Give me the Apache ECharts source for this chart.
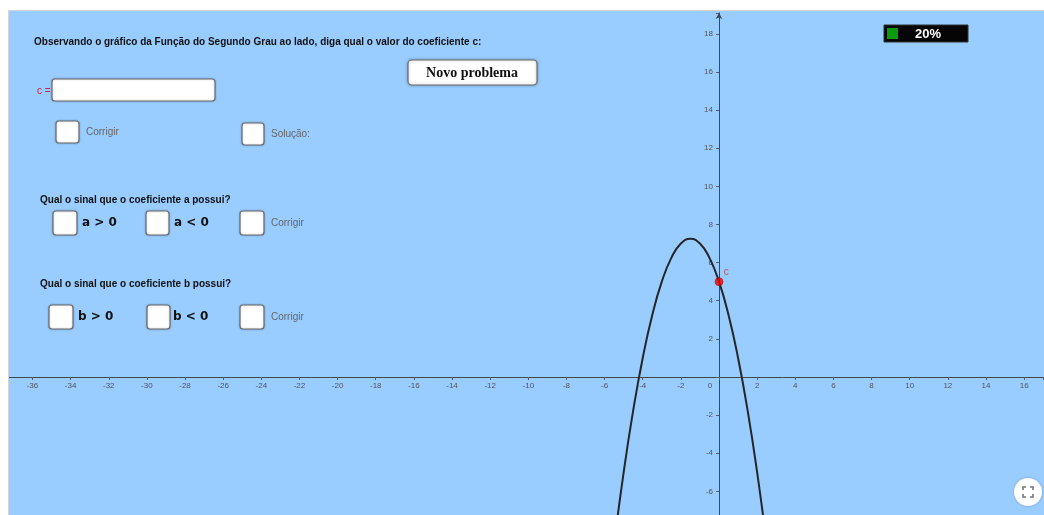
<!DOCTYPE html>
<html><head><meta charset="utf-8">
<script src="https://cdn.jsdelivr.net/npm/echarts@6/dist/echarts.min.js"></script>
<style>html,body{margin:0;padding:0;background:#fff;}#c{width:1044px;height:515px;}</style>
</head><body><div id="c"></div>
<script>
// Parabola samples (x, y)
const curveX = [-5.5, -5, -4.5, -4, -3.5, -3, -2.5, -2, -1.5, -1, -0.5, 0, 0.5, 1, 1.5, 2, 2.5];
const curveY = [-8.75, -5, -1.75, 1, 3.25, 5, 6.25, 7, 7.25, 7, 6.25, 5, 3.25, 1, -1.75, -5, -8.75];
// Point c (y-intercept)
const pointC = [0, 5];
const pointLabel = 'c';
// Axis ranges / tick step
const xRange = [-38, 17];
const yRange = [-8, 19.09];
const tickStep = 2;
// Texts
const heading = 'Observando o gráfico da Função do Segundo Grau ao lado, diga qual o valor do coeficiente c:';
const questionA = 'Qual o sinal que o coeficiente a possui?';
const questionB = 'Qual o sinal que o coeficiente b possui?';
const optionsA = ['a > 0', 'a < 0'];
const optionsB = ['b > 0', 'b < 0'];
const correctLabel = 'Corrigir';
const solutionLabel = 'Solução:';
const inputLabel = 'c =';
const buttonLabel = 'Novo problema';
const progressLabel = '20%';

const chart = echarts.init(document.getElementById('c'), null, {renderer: 'canvas'});

// layout of the plotting area (pixels)
const gridLeft = -5.66, gridRight = 0.8, gridTop = 13, gridBottom = -14.56;
const W = 1044, H = 515;
const pxPerX = (W - gridLeft - gridRight) / (xRange[1] - xRange[0]);
const pxPerY = (H - gridTop - gridBottom) / (yRange[1] - yRange[0]);
// move the axes to the origin with offsets (value -> pixel through the same scale)
const xAxisOffset = -(0 - yRange[0]) * pxPerY;
const yAxisOffset = -(0 - xRange[0]) * pxPerX;

function tickFmt(v) {
  if (Math.abs(v - Math.round(v)) > 1e-6) return '';
  if (v % tickStep !== 0) return '';
  if (v === 0) return '';
  return String(v);
}

const SANS = '"Liberation Sans", Arial, sans-serif';
function txt(x, y, text, font, fill, align) {
  return {type: 'text', z: 120, style: {x: x, y: y, text: text, font: font, fill: fill, align: align || 'left', verticalAlign: 'middle'}};
}
function box(x, y, w, h) {
  return {type: 'rect', z: 110, shape: {x: x, y: y, width: w, height: h, r: 3},
    style: {fill: '#ffffff', stroke: '#6f6f6f', lineWidth: 1.2, shadowBlur: 2, shadowColor: 'rgba(0,0,0,0.25)'}};
}

const graphics = [
  {type: 'rect', z: 100, shape: {x: 0, y: 0, width: 1044, height: 10}, style: {fill: '#ffffff'}},
  {type: 'rect', z: 100, shape: {x: 0, y: 0, width: 8, height: 515}, style: {fill: '#ffffff'}},
  {type: 'line', z: 101, shape: {x1: 8, y1: 10.5, x2: 1044, y2: 10.5}, style: {stroke: '#d4d4d4', lineWidth: 1}},
  {type: 'line', z: 101, shape: {x1: 8.5, y1: 10, x2: 8.5, y2: 515}, style: {stroke: '#d4d4d4', lineWidth: 1}},
  txt(34, 42, heading, 'bold 10px ' + SANS, '#111'),
  txt(37, 91, inputLabel, '10px ' + SANS, '#d02040'),
  box(52, 79, 163, 22),
  {type: 'rect', z: 110, shape: {x: 408, y: 60, width: 129, height: 25, r: 4},
    style: {fill: '#ffffff', stroke: '#6f6f6f', lineWidth: 1.2, shadowBlur: 3, shadowColor: 'rgba(0,0,0,0.3)'}},
  txt(472, 73, buttonLabel, 'bold 14px "Liberation Serif", "Times New Roman", serif', '#111', 'center'),
  box(56, 121, 23, 22), txt(86, 132, correctLabel, '10px ' + SANS, '#666'),
  box(242, 123, 22, 22), txt(271, 134, solutionLabel, '10px ' + SANS, '#666'),
  txt(40, 200, questionA, 'bold 10px ' + SANS, '#111'),
  box(53, 211, 24, 24), txt(82, 223, optionsA[0], 'bold 12px "DejaVu Sans", sans-serif', '#111'),
  box(146, 211, 23, 24), txt(174, 223, optionsA[1], 'bold 12px "DejaVu Sans", sans-serif', '#111'),
  box(240, 211, 24, 24), txt(271, 223, correctLabel, '10px ' + SANS, '#666'),
  txt(40, 284, questionB, 'bold 10px ' + SANS, '#111'),
  box(49, 305, 24, 24), txt(78, 317, optionsB[0], 'bold 12px "DejaVu Sans", sans-serif', '#111'),
  box(147, 305, 23, 24), txt(173, 317, optionsB[1], 'bold 12px "DejaVu Sans", sans-serif', '#111'),
  box(240, 305, 24, 24), txt(271, 317, correctLabel, '10px ' + SANS, '#666'),
  {type: 'rect', z: 110, shape: {x: 884, y: 25, width: 84, height: 17}, style: {fill: '#050505', stroke: '#333', lineWidth: 1}},
  {type: 'rect', z: 111, shape: {x: 887, y: 28, width: 11, height: 11}, style: {fill: '#0a9a0a'}},
  txt(928, 34, progressLabel, 'bold 13px ' + SANS, '#ffffff', 'center'),
  {type: 'circle', z: 110, shape: {cx: 1028, cy: 492, r: 14}, style: {fill: '#ffffff', shadowBlur: 3, shadowColor: 'rgba(0,0,0,0.2)'}},
  {type: 'polyline', z: 111, shape: {points: [[1023, 490], [1023, 487], [1026, 487]]}, style: {stroke: '#777', lineWidth: 1.6, fill: null}},
  {type: 'polyline', z: 111, shape: {points: [[1030, 487], [1033, 487], [1033, 490]]}, style: {stroke: '#777', lineWidth: 1.6, fill: null}},
  {type: 'polyline', z: 111, shape: {points: [[1023, 494], [1023, 497], [1026, 497]]}, style: {stroke: '#777', lineWidth: 1.6, fill: null}},
  {type: 'polyline', z: 111, shape: {points: [[1030, 497], [1033, 497], [1033, 494]]}, style: {stroke: '#777', lineWidth: 1.6, fill: null}}
];

const option = {
  animation: false,
  backgroundColor: '#99CCFF',
  grid: {left: gridLeft, right: gridRight, top: gridTop, bottom: gridBottom, containLabel: false, outerBoundsMode: 'none'},
  xAxis: {
    type: 'value', min: xRange[0], max: xRange[1], interval: tickStep,
    position: 'bottom', offset: xAxisOffset,
    axisLine: {onZero: false, lineStyle: {color: '#3e4852', width: 1}},
    axisTick: {show: true, length: 3, lineStyle: {color: '#55606a'}},
    axisLabel: {fontSize: 8, color: '#555', margin: 5, fontFamily: SANS, formatter: function (v) {
      if (v === 0) return '{z|0}';
      return tickFmt(v);
    }, rich: {z: {fontSize: 8, color: '#555', fontFamily: SANS, padding: [0, 18, 0, 0]}}},
    splitLine: {show: false}
  },
  yAxis: {
    type: 'value', min: yRange[0], max: yRange[1], interval: tickStep,
    position: 'left', offset: yAxisOffset,
    axisLine: {onZero: false, symbol: ['none', 'arrow'], symbolSize: [5, 6], lineStyle: {color: '#3e4852', width: 1}},
    axisTick: {show: true, length: 3, lineStyle: {color: '#55606a'}},
    axisLabel: {fontSize: 8, color: '#555', margin: 6, fontFamily: SANS, formatter: tickFmt},
    splitLine: {show: false}
  },
  series: [
    {
      type: 'line', data: curveX.map(function (x, i) { return [x, curveY[i]]; }),
      smooth: true, showSymbol: false, symbol: 'none',
      lineStyle: {color: '#262626', width: 2}, z: 3
    },
    {
      type: 'scatter', data: [pointC], symbolSize: 8, z: 4,
      itemStyle: {color: '#ee0000', borderColor: '#990000', borderWidth: 0.6},
      label: {show: true, formatter: pointLabel, position: [9, -5], align: 'left', verticalAlign: 'middle',
        fontSize: 10, color: '#e03030', fontFamily: SANS}
    }
  ],
  graphic: graphics
};
chart.setOption(option);
</script></body></html>
